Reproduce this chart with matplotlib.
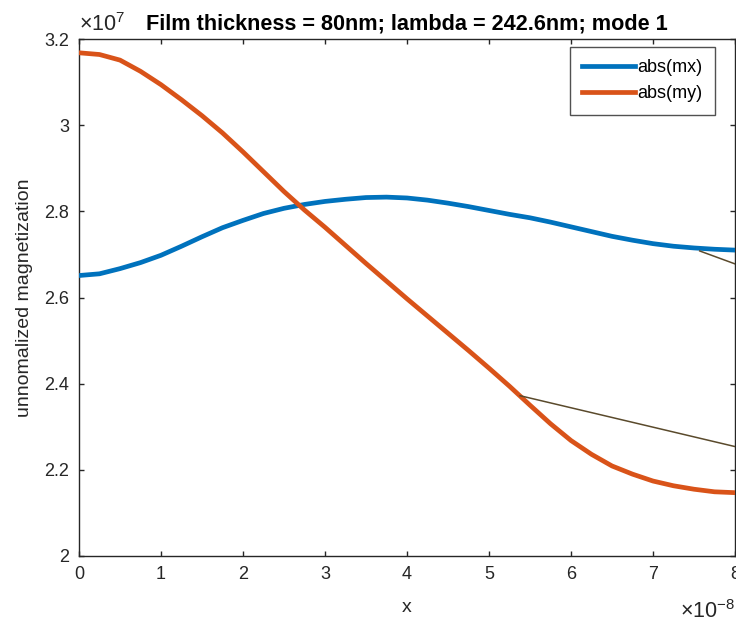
import numpy as np
import matplotlib.pyplot as plt
from matplotlib.ticker import FuncFormatter

plt.rcParams['font.family'] = ['Liberation Sans', 'DejaVu Sans']
plt.rcParams['mathtext.fontset'] = 'custom'
plt.rcParams['mathtext.rm'] = 'Liberation Sans'

# position along the film (m), sampled every 0.25e-8
x = np.arange(0, 8.25, 0.25) * 1e-8
abs_mx = np.array([2.651, 2.655, 2.667, 2.681, 2.698, 2.719, 2.741, 2.762, 2.779,
                   2.795, 2.807, 2.816, 2.823, 2.828, 2.832, 2.833, 2.831, 2.826,
                   2.819, 2.811, 2.802, 2.793, 2.785, 2.775, 2.764, 2.753, 2.742,
                   2.733, 2.725, 2.719, 2.715, 2.712, 2.710]) * 1e7
abs_my = np.array([3.168, 3.164, 3.151, 3.125, 3.094, 3.059, 3.022, 2.982, 2.938,
                   2.892, 2.846, 2.803, 2.763, 2.721, 2.679, 2.638, 2.597, 2.557,
                   2.517, 2.477, 2.436, 2.394, 2.350, 2.307, 2.268, 2.236, 2.209,
                   2.190, 2.174, 2.163, 2.155, 2.149, 2.147]) * 1e7

# thin guide segments
seg1_x = np.array([5.38, 8.0]) * 1e-8
seg1_y = np.array([2.372, 2.254]) * 1e7
seg2_x = np.array([7.57, 8.0]) * 1e-8
seg2_y = np.array([2.708, 2.678]) * 1e7

xticks = np.arange(0, 9) * 1e-8
yticks = np.array([2.0, 2.2, 2.4, 2.6, 2.8, 3.0, 3.2]) * 1e7

fig = plt.figure(figsize=(7.36, 6.22), dpi=100)
ax = fig.add_axes([79 / 736, 1 - 556 / 622, 656 / 736, 517 / 622])

axc = '#262626'
ax.plot(x, abs_mx, color='#0072BD', linewidth=3.4, label='abs(mx)', zorder=3)
ax.plot(x, abs_my, color='#D95319', linewidth=3.4, label='abs(my)', zorder=3)
ax.plot(seg1_x, seg1_y, color='#5a4a2c', linewidth=1.1, zorder=4)
ax.plot(seg2_x, seg2_y, color='#5a4a2c', linewidth=1.1, zorder=4)

ax.set_xlim(0, 8e-8)
ax.set_ylim(2e7, 3.2e7)
ax.set_xticks(xticks)
ax.set_yticks(yticks)
ax.xaxis.set_major_formatter(FuncFormatter(lambda v, p: f'{v / 1e-8:g}'))
ax.yaxis.set_major_formatter(FuncFormatter(lambda v, p: f'{v / 1e7:g}'))

for s in ax.spines.values():
    s.set_color(axc)
    s.set_linewidth(1.0)
ax.tick_params(direction='in', top=True, right=True, length=3.8, width=1.0,
               colors=axc, labelsize=13, pad=7)

ax.set_xlabel('x', fontsize=14, color=axc, labelpad=12)
ax.set_ylabel('unnomalized magnetization', fontsize=14, color=axc, labelpad=8)
ax.set_title('Film thickness = 80nm; lambda = 242.6nm; mode 1',
             fontsize=15.6, fontweight='bold', color='black', pad=7)

# axis multipliers
ax.text(0.0, 1.006, r'$\times\mathregular{10^{7}}$', transform=ax.transAxes,
        fontsize=15.5, color=axc, ha='left', va='bottom')
ax.text(1.0, -0.085, r'$\times\mathregular{10^{-8}}$', transform=ax.transAxes,
        fontsize=15.5, color=axc, ha='right', va='top')

leg = ax.legend(loc='upper right', bbox_to_anchor=(0.9695, 0.985),
                borderaxespad=0, fontsize=13, frameon=True, fancybox=False,
                edgecolor=axc, handlelength=2.9, borderpad=0.7,
                labelspacing=0.5, handletextpad=0.15)
leg.get_frame().set_linewidth(1.0)

fig.savefig('out.png', dpi=100)
